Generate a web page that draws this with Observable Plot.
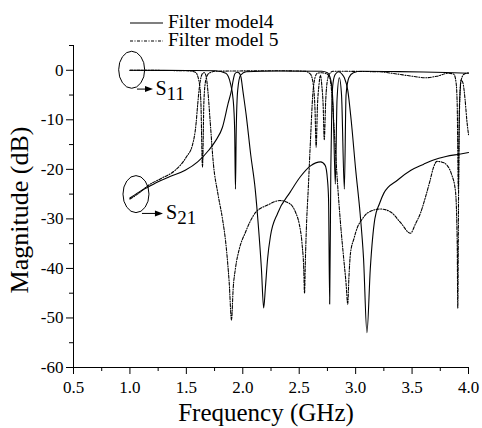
<!DOCTYPE html>
<html><head><meta charset="utf-8">
<script src="https://cdn.jsdelivr.net/npm/d3@7"></script>
<script src="https://cdn.jsdelivr.net/npm/@observablehq/plot@0.6"></script>
<style>body{margin:0;background:#fff;}</style>
</head><body><div id="chart"></div>
<script>
// ---- Data ----
const m4S21Freq = [1.00,1.08,1.15,1.25,1.35,1.49,1.60,1.70,1.76,1.82,1.87,1.90,1.915,1.93,1.95,1.97,1.985,2.00,2.03,2.07,2.11,2.14,2.165,2.185,2.20,2.22,2.245,2.31,2.42,2.51,2.60,2.69,2.73,2.75,2.76,2.77,2.78,2.79,2.80,2.82,2.85,2.88,2.90,2.93,2.96,3.00,3.04,3.07,3.10,3.13,3.17,3.21,3.25,3.37,3.49,3.60,3.69,3.80,3.93,4.00];
const m4S21Mag  = [-25.8,-24.6,-23.7,-22.5,-21.5,-20.2,-18.5,-16.1,-14.2,-11.5,-6.7,-4.0,-2.0,-0.7,-0.4,-0.6,-1.5,-4,-9,-17,-24,-32,-40,-48,-44,-38,-33.5,-28.8,-24.6,-21.5,-19.3,-18.5,-19.2,-22,-26,-47.2,-20,-6,-2.5,-0.8,-0.3,-0.8,-1.5,-4,-10,-20,-29,-38,-53,-40,-30,-27,-24.8,-22.2,-20.2,-19,-18.1,-17.4,-16.9,-16.6];

const m4S11Freq = [1.00,1.50,1.76,1.85,1.89,1.915,1.928,1.935,1.942,1.955,1.98,2.03,2.30,2.70,2.75,2.78,2.80,2.82,2.835,2.855,2.875,2.90,2.915,2.94,2.98,3.05,3.30,3.60,3.80,4.00];
const m4S11Mag  = [0,-0.05,-0.1,-0.6,-2.6,-6,-12,-24,-12,-4,-1,-0.3,-0.15,-0.2,-0.5,-2,-7,-23,-6,-1.5,-5,-24,-5,-1.5,-0.5,-0.2,-0.25,-0.35,-0.45,-0.6];

const m5S21Freq = [1.00,1.08,1.165,1.28,1.40,1.50,1.555,1.585,1.60,1.615,1.63,1.645,1.66,1.675,1.69,1.71,1.74,1.78,1.82,1.85,1.88,1.90,1.915,1.935,1.97,2.02,2.11,2.22,2.33,2.42,2.47,2.50,2.525,2.54,2.547,2.555,2.565,2.58,2.60,2.62,2.64,2.66,2.70,2.74,2.77,2.79,2.81,2.84,2.87,2.89,2.915,2.93,2.94,2.954,2.985,3.016,3.06,3.105,3.22,3.31,3.40,3.486,3.53,3.575,3.62,3.66,3.69,3.72,3.76,3.81,3.85,3.885,3.90,3.905,3.912,3.92,3.935,3.96,4.00];
const m5S21Mag  = [-26,-24.8,-23.2,-21.8,-20.2,-17.5,-15,-11,-7,-3.5,-1.4,-0.6,-0.5,-1.2,-4,-10,-19,-25,-30,-35,-43,-50.4,-44,-40,-36,-32.9,-28.8,-27.2,-26.3,-27,-28.8,-31,-35,-40,-45,-38,-31,-24,-14,-5,-1.5,-0.6,-0.5,-0.7,-1.5,-5,-12,-23,-32,-37,-43,-47.2,-42,-37,-34,-31.7,-30,-28.8,-28,-28.6,-30.8,-32.9,-31,-28.8,-25.5,-22.2,-19.6,-18.4,-18.5,-19.2,-21,-24.5,-35,-48,-25,-8,-2,-0.8,-0.5];

const m5S11Freq = [1.00,1.50,1.58,1.61,1.628,1.643,1.656,1.672,1.70,1.76,2.30,2.55,2.60,2.625,2.64,2.65,2.662,2.675,2.688,2.70,2.712,2.722,2.735,2.75,2.77,2.80,3.20,3.35,3.50,3.62,3.72,3.82,3.87,3.89,3.90,3.91,3.92,3.935,3.95,3.97,3.985,4.00];
const m5S11Mag  = [0,-0.1,-0.4,-2,-6,-19.5,-6,-2,-0.6,-0.2,-0.1,-0.2,-0.8,-3,-8,-15.5,-7,-3,-1,-3,-7,-14,-6,-2,-0.7,-0.2,-0.3,-0.7,-1.2,-1.5,-1.2,-0.6,-0.8,-2.5,-7,-24,-7,-2,-2.5,-6,-10,-13];

const xTicks = [0.5,1.0,1.5,2.0,2.5,3.0,3.5,4.0];
const xMinor = [0.75,1.25,1.75,2.25,2.75,3.25,3.75];
const yTicks = [-60,-50,-40,-30,-20,-10,0];
const yMinor = [-55,-45,-35,-25,-15,-5,5];
const legendLabels = ["Filter model4","Filter model 5"];

function rows(param, freq, mag){ return freq.map((f,i)=>({param, f, db: mag[i]})); }
const model4 = [...rows("S21", m4S21Freq, m4S21Mag), ...rows("S11", m4S11Freq, m4S11Mag)];
const model5 = [...rows("S21", m5S21Freq, m5S21Mag), ...rows("S11", m5S11Freq, m5S11Mag)];

const FONT = "Liberation Serif, Times New Roman, serif";
const DASH = "3,1.5,1,1.5";

const plot = Plot.plot({
  width: 482, height: 428,
  marginLeft: 73, marginRight: 14, marginTop: 45, marginBottom: 61,
  style: {fontFamily: FONT, fontSize: "17px", background: "white", color: "black", overflow: "visible"},
  x: {domain: [0.5, 4.0]},
  y: {domain: [-60, 5]},
  marks: [
    Plot.axisX({ticks: xTicks, tickSize: 7, tickPadding: 6, tickFormat: d => d.toFixed(1), label: null, fontSize: 17}),
    Plot.axisX({ticks: xMinor, tickSize: 4, tickFormat: () => "", label: null}),
    Plot.axisY({ticks: yTicks, tickSize: 7, tickPadding: 3, tickFormat: d => String(d), label: null, fontSize: 17}),
    Plot.axisY({ticks: yMinor, tickSize: 4, tickFormat: () => "", label: null}),
    Plot.ruleX([0.5], {stroke: "black", strokeWidth: 1}),
    Plot.ruleY([-60], {stroke: "black", strokeWidth: 1}),
    Plot.line(model5, {x: "f", y: "db", z: "param", stroke: "black", strokeWidth: 1.1, strokeDasharray: DASH, curve: "monotone-x"}),
    Plot.line(model4, {x: "f", y: "db", z: "param", stroke: "black", strokeWidth: 1.1, curve: "monotone-x"})
  ]
});

const svg = d3.select(plot);
// drop the empty labels of the minor-tick axes
svg.selectAll("text").filter(function(){ return this.textContent === ""; }).remove();
const sx = plot.scale("x"), sy = plot.scale("y");
const X = v => sx.apply(v), Y = v => sy.apply(v);

// legend
const lg = svg.append("g").attr("font-family", FONT).attr("font-size", 19.5).attr("fill", "black").attr("text-anchor","start");
lg.append("line").attr("x1",130).attr("x2",163).attr("y1",23).attr("y2",23).attr("stroke","black").attr("stroke-width",1.1);
lg.append("text").attr("x",168).attr("y",28).text(legendLabels[0]);
lg.append("line").attr("x1",130).attr("x2",163).attr("y1",41).attr("y2",41).attr("stroke","black").attr("stroke-width",1.1).attr("stroke-dasharray",DASH);
lg.append("text").attr("x",168).attr("y",46).text(legendLabels[1]);

// annotations: ellipses, arrows and S-parameter labels
const ann = svg.append("g").attr("fill","none").attr("stroke","black").attr("stroke-width",1);
function marker(cx, cy, arrowY, x1, x2, lx, sub){
  ann.append("ellipse").attr("cx", X(cx)).attr("cy", Y(cy)).attr("rx", 13).attr("ry", 18.5);
  const ay = Y(arrowY);
  ann.append("line").attr("x1", X(x1)).attr("x2", X(x2) - 6).attr("y1", ay).attr("y2", ay);
  ann.append("path").attr("d", `M${X(x2)},${ay} l-8,-3 l0,6 z`).attr("fill","black").attr("stroke","none");
  const t = svg.append("text").attr("font-family", FONT).attr("font-size", 20).attr("fill","black")
    .attr("text-anchor","start").attr("x", X(lx)).attr("y", ay + 6);
  t.append("tspan").text("S");
  t.append("tspan").attr("dy", 5).attr("font-size", 19).text(sub);
}
marker(1.02, 0, -3.9, 1.067, 1.209, 1.23, "11");
marker(1.058, -25.1, -29, 1.111, 1.297, 1.325, "21");

// axis titles
svg.append("text").attr("x", 266).attr("y", 421).attr("text-anchor","middle")
  .attr("font-family", FONT).attr("font-size", 25).attr("fill","black").text("Frequency (GHz)");
svg.append("text").attr("transform","translate(28,210) rotate(-90)").attr("text-anchor","middle")
  .attr("font-family", FONT).attr("font-size", 26).attr("fill","black").text("Magnitude (dB)");

document.getElementById("chart").appendChild(plot);
</script>
</body></html>
